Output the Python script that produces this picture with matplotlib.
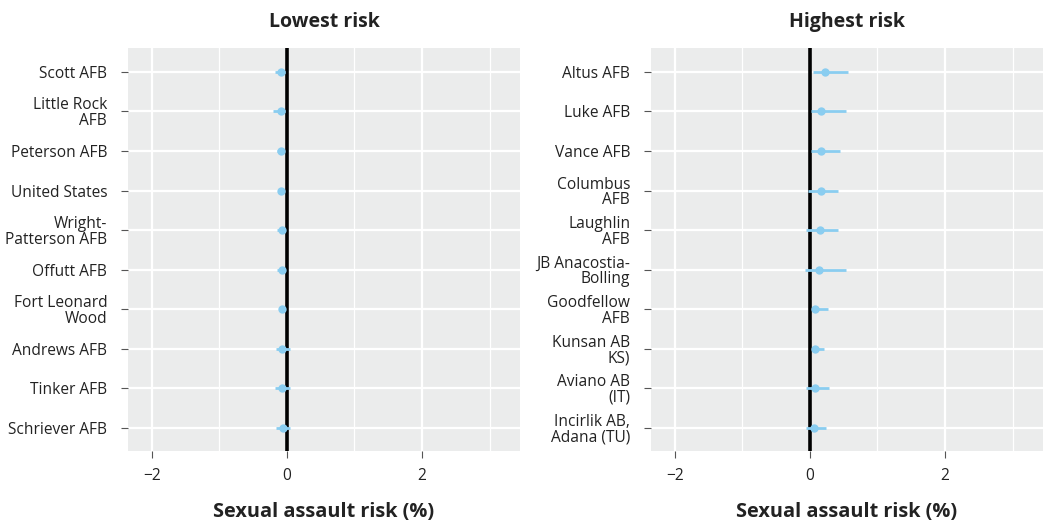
import matplotlib.pyplot as plt
from matplotlib.ticker import MultipleLocator

plt.rcParams['font.family'] = ['Open Sans', 'DejaVu Sans']

# data
low_names = ["Scott AFB", "Little Rock\nAFB", "Peterson AFB", "United States",
             "Wright-\nPatterson AFB", "Offutt AFB", "Fort Leonard\nWood",
             "Andrews AFB", "Tinker AFB", "Schriever AFB"]
low_est = [-0.09, -0.08, -0.08, -0.08, -0.07, -0.07, -0.07, -0.07, -0.07, -0.06]
low_lo = [-0.18, -0.20, -0.14, -0.10, -0.15, -0.15, -0.10, -0.16, -0.18, -0.16]
low_hi = [-0.02, -0.02, -0.04, -0.05, -0.03, -0.03, -0.04, 0.04, 0.04, 0.05]

high_names = ["Altus AFB", "Luke AFB", "Vance AFB", "Columbus\nAFB",
              "Laughlin\nAFB", "JB Anacostia-\nBolling", "Goodfellow\nAFB",
              "Kunsan AB\nKS)", "Aviano AB\n(IT)", "Incirlik AB,\nAdana (TU)"]
high_est = [0.23, 0.17, 0.17, 0.16, 0.15, 0.13, 0.08, 0.07, 0.07, 0.06]
high_lo = [0.04, 0.02, 0.02, -0.03, -0.05, -0.07, 0.03, 0.03, -0.05, -0.06]
high_hi = [0.57, 0.54, 0.45, 0.41, 0.42, 0.53, 0.27, 0.21, 0.29, 0.24]

dot_color = "#8ACDF0"
W, H = 1054, 525
fig = plt.figure(figsize=(W / 100, H / 100), dpi=100)

panels = [
    (128, "Lowest risk", low_names, low_est, low_lo, low_hi),
    (651, "Highest risk", high_names, high_est, high_lo, high_hi),
]

for left, title, names, est, lo, hi in panels:
    ax = fig.add_axes([left / W, (H - 451) / H, 392 / W, 403 / H])
    ax.set_facecolor("#EBECEC")
    y = list(range(len(names)))
    ax.axvline(0, color="black", lw=2.6, zorder=3)
    ax.hlines(y, lo, hi, color=dot_color, lw=2, zorder=4)
    ax.plot(est, y, "o", color=dot_color, ms=6, mec="none", zorder=5)

    ax.set_xlim(-2.35, 3.45)
    ax.set_ylim(len(names) - 1 + 0.58, -0.6)
    ax.set_yticks(y)
    ax.set_yticklabels(names, fontsize=11.2, color="#222222", ha="right",
                       multialignment="right", linespacing=0.95)
    ax.set_xticks([-2, 0, 2])
    ax.xaxis.set_minor_locator(MultipleLocator(1))
    ax.tick_params(axis="x", labelsize=11.2, labelcolor="#222222", length=5,
                   color="#555555", pad=7)
    ax.tick_params(axis="x", which="minor", length=0)
    ax.tick_params(axis="y", length=5, color="#555555", pad=10)
    ax.grid(True, which="major", color="white", lw=1.6, zorder=0)
    ax.grid(True, which="minor", axis="x", color="white", lw=0.9, zorder=0)
    ax.set_axisbelow(True)
    for s in ax.spines.values():
        s.set_visible(False)

    ax.set_title(title, fontsize=14, fontweight="bold", color="#222222", pad=15)
    ax.set_xlabel("Sexual assault risk (%)", fontsize=14.3, fontweight="bold",
                  color="#222222", labelpad=13)

fig.savefig("out.png", dpi=100)
